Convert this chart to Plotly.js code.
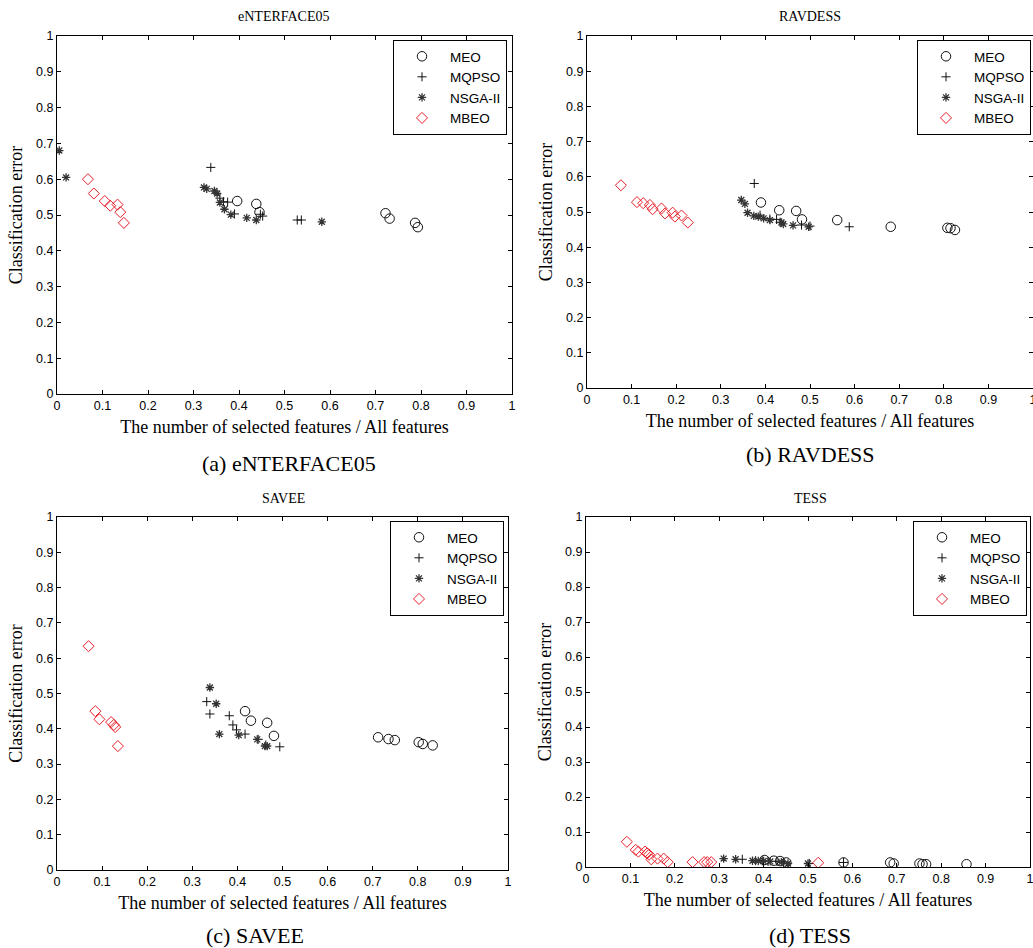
<!DOCTYPE html>
<html><head><meta charset="utf-8">
<script src="https://cdn.plot.ly/plotly-3.0.1.min.js"></script>
<style>html,body{margin:0;padding:0;background:#fff}</style>
</head><body><div id="chart" style="width:1033px;height:948px"></div>
<script>
// ---- data ----
const tickVals = [0,0.1,0.2,0.3,0.4,0.5,0.6,0.7,0.8,0.9,1];
const tickLabels = ['0','0.1','0.2','0.3','0.4','0.5','0.6','0.7','0.8','0.9','1'];
const seriesNames = ['MEO','MQPSO','NSGA-II','MBEO'];
const panelTitles = ['eNTERFACE05','RAVDESS','SAVEE','TESS'];
const panelCaptions = ['(a) eNTERFACE05','(b) RAVDESS','(c) SAVEE','(d) TESS'];
const xTitle = 'The number of selected features / All features';
const yTitle = 'Classification error';

// (a) eNTERFACE05
const aMEO_x = [0.396,0.438,0.445,0.722,0.731,0.787,0.793];
const aMEO_y = [0.539,0.531,0.508,0.505,0.490,0.478,0.466];
const aMQPSO_x = [0.338,0.358,0.366,0.375,0.390,0.447,0.452,0.528,0.537];
const aMQPSO_y = [0.633,0.547,0.537,0.536,0.503,0.502,0.497,0.486,0.486];
const aNSGA_x = [0.005,0.020,0.323,0.329,0.346,0.352,0.358,0.368,0.382,0.417,0.438,0.582];
const aNSGA_y = [0.680,0.605,0.577,0.573,0.567,0.560,0.535,0.516,0.501,0.492,0.486,0.481];
const aMBEO_x = [0.068,0.081,0.105,0.117,0.133,0.139,0.147];
const aMBEO_y = [0.600,0.560,0.539,0.526,0.529,0.508,0.478];

// (b) RAVDESS
const bMEO_x = [0.390,0.431,0.469,0.482,0.561,0.681,0.808,0.815,0.825];
const bMEO_y = [0.527,0.505,0.503,0.479,0.477,0.458,0.455,0.454,0.449];
const bMQPSO_x = [0.375,0.388,0.410,0.425,0.433,0.481,0.500,0.588];
const bMQPSO_y = [0.581,0.491,0.480,0.479,0.471,0.463,0.460,0.458];
const bNSGA_x = [0.346,0.354,0.360,0.374,0.384,0.396,0.410,0.436,0.440,0.462,0.497];
const bNSGA_y = [0.534,0.523,0.498,0.489,0.487,0.482,0.477,0.470,0.466,0.462,0.458];
const bMBEO_x = [0.076,0.112,0.126,0.141,0.147,0.167,0.175,0.192,0.197,0.212,0.226];
const bMBEO_y = [0.576,0.528,0.525,0.520,0.508,0.510,0.496,0.498,0.487,0.490,0.470];

// (c) SAVEE
const cMEO_x = [0.417,0.430,0.466,0.481,0.712,0.735,0.749,0.802,0.811,0.833];
const cMEO_y = [0.450,0.423,0.417,0.380,0.376,0.371,0.368,0.362,0.357,0.353];
const cMQPSO_x = [0.332,0.339,0.382,0.390,0.398,0.417,0.446,0.463,0.494];
const cMQPSO_y = [0.477,0.442,0.437,0.411,0.397,0.385,0.370,0.354,0.349];
const cNSGA_x = [0.339,0.353,0.360,0.403,0.444,0.461,0.466];
const cNSGA_y = [0.517,0.471,0.385,0.382,0.370,0.351,0.351];
const cMBEO_x = [0.070,0.085,0.094,0.120,0.126,0.129,0.135];
const cMBEO_y = [0.634,0.450,0.427,0.419,0.411,0.405,0.351];

// (d) TESS
const dMEO_x = [0.402,0.423,0.437,0.451,0.580,0.685,0.693,0.751,0.758,0.766,0.857];
const dMEO_y = [0.020,0.018,0.017,0.013,0.013,0.013,0.010,0.010,0.008,0.008,0.008];
const dMQPSO_x = [0.352,0.382,0.397,0.410,0.430,0.445,0.503,0.580];
const dMQPSO_y = [0.022,0.018,0.018,0.016,0.016,0.014,0.010,0.013];
const dNSGA_x = [0.310,0.337,0.375,0.388,0.400,0.415,0.440,0.455,0.500];
const dNSGA_y = [0.024,0.022,0.018,0.017,0.017,0.016,0.014,0.010,0.010];
const dMBEO_x = [0.092,0.112,0.118,0.133,0.138,0.142,0.147,0.161,0.175,0.184,0.240,0.266,0.273,0.282,0.523];
const dMBEO_y = [0.072,0.049,0.044,0.044,0.039,0.035,0.022,0.024,0.024,0.014,0.014,0.014,0.014,0.014,0.012];

// ---- styles ----
const W = 1033, H = 948;
const SERIF = 'Liberation Serif, Times New Roman, serif';
const SANS = 'Liberation Sans, Arial, sans-serif';
const markerStyles = [
  {symbol:'circle-open', size:9.5, color:'#111', line:{width:1, color:'#111'}},
  {symbol:'cross-thin-open', size:6.5, color:'#111', line:{width:1, color:'#111'}},
  {symbol:'asterisk-open', size:7, color:'#333', line:{width:1.3, color:'#333'}},
  {symbol:'diamond-open', size:8.5, color:'#e8202a', line:{width:1, color:'#e8202a'}}
];

// panel boxes in pixels: [left, right, top, bottom]
const boxes = [[57,512,36,394],[587,1033,36,388],[57,508,517,870],[586,1030,517,867]];
const legendPos = [[393,40],[917,40],[390,521],[913,521]];
const titlePos = [[284,16],[810,16],[283,498],[810,498]];
const captionPos = [[289,463],[810,455],[255,935],[810,935]];

const panelData = [
  [[aMEO_x,aMEO_y],[aMQPSO_x,aMQPSO_y],[aNSGA_x,aNSGA_y],[aMBEO_x,aMBEO_y]],
  [[bMEO_x,bMEO_y],[bMQPSO_x,bMQPSO_y],[bNSGA_x,bNSGA_y],[bMBEO_x,bMBEO_y]],
  [[cMEO_x,cMEO_y],[cMQPSO_x,cMQPSO_y],[cNSGA_x,cNSGA_y],[cMBEO_x,cMBEO_y]],
  [[dMEO_x,dMEO_y],[dMQPSO_x,dMQPSO_y],[dNSGA_x,dNSGA_y],[dMBEO_x,dMBEO_y]]
];

const traces = [];
const layout = {
  width: W, height: H,
  margin: {l:0, r:0, t:0, b:0},
  paper_bgcolor: '#fff', plot_bgcolor: '#fff',
  showlegend: true,
  annotations: [],
  font: {family: SANS, color: '#000'}
};

function axisBase(domain, anchor, title, standoff) {
  return {
    domain: domain, anchor: anchor, range: [0, 1],
    tickmode: 'array', tickvals: tickVals, ticktext: tickLabels,
    ticks: 'inside', ticklen: 4, tickwidth: 1, tickcolor: '#000',
    ticklabeloverflow: 'allow',
    showline: true, mirror: 'ticks', linecolor: '#000', linewidth: 1,
    showgrid: false, zeroline: false, fixedrange: true,
    tickfont: {family: SANS, size: 12.5, color: '#000'},
    title: {text: title, font: {family: SERIF, size: 18, color: '#000'}, standoff: standoff}
  };
}

panelData.forEach((series, p) => {
  const suf = p === 0 ? '' : String(p + 1);
  const [l, r, t, b] = boxes[p];
  layout['xaxis' + suf] = axisBase([l / W, r / W], 'y' + suf, xTitle, 8);
  layout['yaxis' + suf] = axisBase([(H - b) / H, (H - t) / H], 'x' + suf, yTitle, 8);
  const legName = 'legend' + suf;
  layout[legName] = {
    x: legendPos[p][0] / W, y: (H - legendPos[p][1]) / H,
    xanchor: 'left', yanchor: 'top',
    bgcolor: '#fff', bordercolor: '#000', borderwidth: 1,
    font: {family: SANS, size: 13.5, color: '#000'},
    tracegroupgap: 0, itemwidth: 46
  };
  series.forEach((s, k) => {
    traces.push({
      type: 'scatter', mode: 'markers',
      x: s[0], y: s[1], name: seriesNames[k],
      xaxis: 'x' + suf, yaxis: 'y' + suf, legend: legName,
      marker: markerStyles[k], cliponaxis: true, hoverinfo: 'x+y+name'
    });
  });
  layout.annotations.push({
    xref: 'paper', yref: 'paper', x: titlePos[p][0] / W, y: (H - titlePos[p][1]) / H,
    xanchor: 'center', yanchor: 'middle', showarrow: false,
    text: panelTitles[p], font: {family: SERIF, size: 14, color: '#000'}
  });
  layout.annotations.push({
    xref: 'paper', yref: 'paper', x: captionPos[p][0] / W, y: (H - captionPos[p][1]) / H,
    xanchor: 'center', yanchor: 'middle', showarrow: false,
    text: panelCaptions[p], font: {family: SERIF, size: 22, color: '#000'}
  });
});

Plotly.newPlot('chart', traces, layout, {staticPlot: true, displayModeBar: false});
</script></body></html>
